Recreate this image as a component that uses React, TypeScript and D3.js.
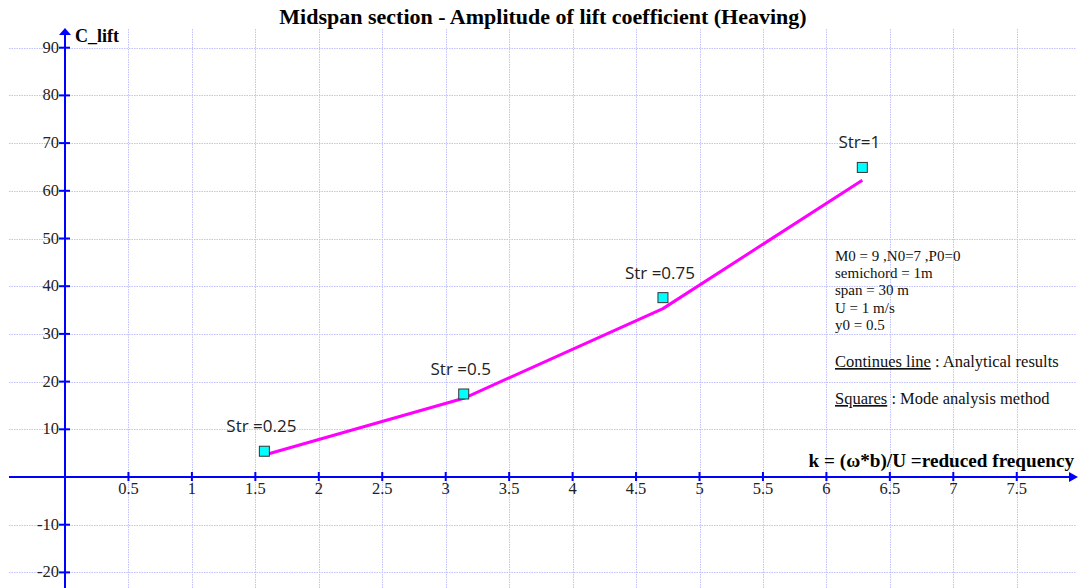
import { useEffect, useRef } from 'react';
import * as d3 from 'd3';

// k values (reduced frequency) for each Strouhal case
const kValues = [1.571, 3.142, 4.712, 6.283];
const strLabels = ['Str =0.25', 'Str =0.5', 'Str =0.75', 'Str=1'];
// analytical results (continuous line)
const analytical = [4.6, 16.5, 35.3, 62.2];
// mode analysis method (squares)
const modeAnalysis = [5.4, 17.4, 37.6, 64.9];

const xTicks = [0.5, 1, 1.5, 2, 2.5, 3, 3.5, 4, 4.5, 5, 5.5, 6, 6.5, 7, 7.5];
const yTicks = [90, 80, 70, 60, 50, 40, 30, 20, 10, -10, -20];

const infoLines = ['M0 = 9 ,N0=7 ,P0=0', 'semichord = 1m', 'span = 30 m', 'U  = 1 m/s', 'y0 = 0.5'];

const W = 1080;
const H = 588;
const serif = '"Liberation Serif", "Times New Roman", serif';
const sans = '"Open Sans", "Noto Sans", sans-serif';

const App = () => {
  const svgRef = useRef<SVGSVGElement | null>(null);

  useEffect(() => {
    const svg = d3.select(svgRef.current);
    svg.selectAll('*').remove();

    const x = d3.scaleLinear().domain([0, 8]).range([65, 65 + 8 * 126.9]);
    const y = d3.scaleLinear().domain([0, 90]).range([477, 477 - 9 * 47.7]);

    const x0 = x(0);
    const y0 = y(0);

    // grid
    const grid = svg.append('g')
      .attr('stroke', '#c2c2ff')
      .attr('stroke-width', 1)
      .attr('stroke-dasharray', '1.5,1');

    grid.selectAll('.vg')
      .data(xTicks)
      .enter()
      .append('line')
      .attr('x1', d => Math.round(x(d)) + 0.5)
      .attr('x2', d => Math.round(x(d)) + 0.5)
      .attr('y1', 29)
      .attr('y2', H);

    grid.selectAll('.hg')
      .data(yTicks)
      .enter()
      .append('line')
      .attr('y1', d => Math.round(y(d)) + 0.5)
      .attr('y2', d => Math.round(y(d)) + 0.5)
      .attr('x1', 9)
      .attr('x2', 1076);

    // axes
    const axes = svg.append('g').attr('stroke', '#0000ff').attr('stroke-width', 2);
    axes.append('line').attr('x1', 9).attr('x2', 1071).attr('y1', y0).attr('y2', y0);
    axes.append('line').attr('x1', x0).attr('x2', x0).attr('y1', 35).attr('y2', H);

    axes.selectAll('.xt')
      .data(xTicks)
      .enter()
      .append('line')
      .attr('x1', d => x(d))
      .attr('x2', d => x(d))
      .attr('y1', y0 - 5)
      .attr('y2', y0 + 4);

    axes.selectAll('.yt')
      .data(yTicks)
      .enter()
      .append('line')
      .attr('x1', x0 - 6)
      .attr('x2', x0 + 5)
      .attr('y1', d => y(d))
      .attr('y2', d => y(d));

    svg.append('path')
      .attr('d', `M${x0},28 L${x0 - 6},35 L${x0 + 6},35 Z`)
      .attr('fill', '#0000ff');
    svg.append('path')
      .attr('d', `M1078,${y0} L1069,${y0 - 5} L1069,${y0 + 5} Z`)
      .attr('fill', '#0000ff');

    // tick labels
    svg.append('g')
      .selectAll('text')
      .data(xTicks)
      .enter()
      .append('text')
      .attr('x', d => x(d))
      .attr('y', y0 + 17)
      .attr('text-anchor', 'middle')
      .style('font-family', serif)
      .style('font-size', '16.5px')
      .attr('fill', '#222')
      .text(d => d);

    svg.append('g')
      .selectAll('text')
      .data(yTicks)
      .enter()
      .append('text')
      .attr('x', x0 - 6)
      .attr('y', d => y(d) + 5)
      .attr('text-anchor', 'end')
      .style('font-family', serif)
      .style('font-size', '16.5px')
      .attr('fill', '#222')
      .text(d => d);

    // title and axis names
    svg.append('text')
      .attr('x', 543)
      .attr('y', 24)
      .attr('text-anchor', 'middle')
      .style('font-family', serif)
      .style('font-size', '22px')
      .style('font-weight', 'bold')
      .text('Midspan section - Amplitude of lift coefficient (Heaving)');

    svg.append('text')
      .attr('x', 75)
      .attr('y', 42)
      .style('font-family', serif)
      .style('font-size', '18px')
      .style('font-weight', 'bold')
      .text('C_lift');

    svg.append('text')
      .attr('x', 1074)
      .attr('y', 467)
      .attr('text-anchor', 'end')
      .style('font-family', serif)
      .style('font-size', '19.2px')
      .style('font-weight', 'bold')
      .text('k = (ω*b)/U =reduced frequency');

    // analytical line
    const line = d3.line<number>()
      .x((d, i) => x(kValues[i]))
      .y(d => y(d));

    svg.append('path')
      .datum(analytical)
      .attr('d', line)
      .attr('fill', 'none')
      .attr('stroke', '#ff00ff')
      .attr('stroke-width', 3)
      .attr('stroke-linejoin', 'round');

    // mode analysis squares
    svg.append('g')
      .selectAll('rect')
      .data(modeAnalysis)
      .enter()
      .append('rect')
      .attr('x', (d, i) => x(kValues[i]) - 5)
      .attr('y', d => y(d) - 5)
      .attr('width', 10)
      .attr('height', 10)
      .attr('fill', '#00ffff')
      .attr('stroke', '#333')
      .attr('stroke-width', 1);

    svg.append('g')
      .selectAll('text')
      .data(modeAnalysis)
      .enter()
      .append('text')
      .attr('x', (d, i) => x(kValues[i]) - 3)
      .attr('y', d => y(d) - 19)
      .attr('text-anchor', 'middle')
      .style('font-family', sans)
      .style('font-size', '17px')
      .attr('fill', '#222')
      .text((d, i) => strLabels[i]);

    // info box
    const info = svg.append('g')
      .style('font-family', serif)
      .attr('fill', '#111');

    info.selectAll('.il')
      .data(infoLines)
      .enter()
      .append('text')
      .attr('x', 835)
      .attr('y', (d, i) => 261 + i * 17.2)
      .style('font-size', '15px')
      .text(d => d);

    const legend1 = info.append('text').attr('x', 835).attr('y', 367).style('font-size', '16.5px');
    legend1.append('tspan').style('text-decoration', 'underline').text('Continues line');
    legend1.append('tspan').text(' : Analytical results');

    const legend2 = info.append('text').attr('x', 835).attr('y', 404).style('font-size', '16.5px');
    legend2.append('tspan').style('text-decoration', 'underline').text('Squares');
    legend2.append('tspan').text(' : Mode analysis method');
  }, []);

  return (
    <div style={{ position: 'absolute', left: 0, top: 0, width: W, height: H, background: '#fff' }}>
      <svg ref={svgRef} width={W} height={H}></svg>
    </div>
  );
};

export default App;
